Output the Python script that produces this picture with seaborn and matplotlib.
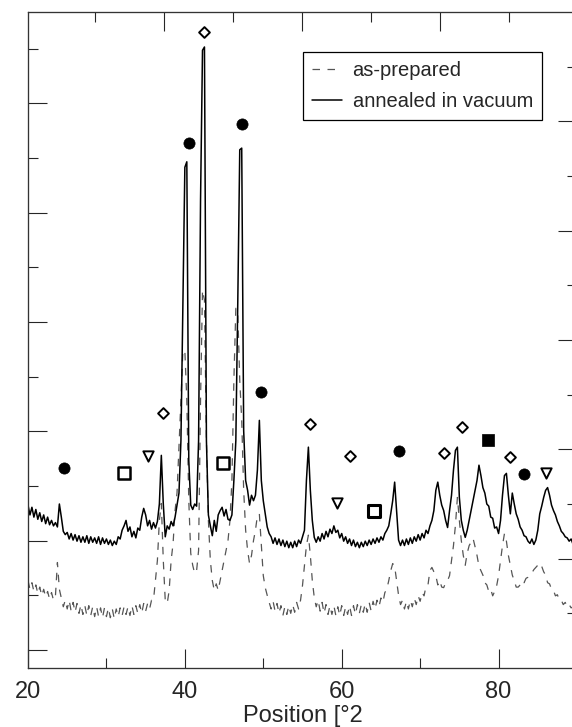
import numpy as np
import matplotlib
matplotlib.use("Agg")
import matplotlib.pyplot as plt
import seaborn as sns

# 2-theta scan grid, 0.25 deg steps
two_theta = np.arange(20.0, 90.01, 0.25)

# annealed in vacuum (solid)
annealed = [
    1490, 1400, 1470, 1380, 1450, 1360, 1420, 1340, 1400, 1320, 1380, 1310, 1350, 1300, 1330, 1290, 1500, 1380, 1250, 1220,
    1240, 1180, 1230, 1170, 1220, 1160, 1210, 1150, 1200, 1150, 1210, 1140, 1200, 1150, 1190, 1140, 1200, 1130, 1190, 1140,
    1180, 1130, 1170, 1120, 1160, 1130, 1200, 1180, 1260, 1300, 1350, 1250, 1290, 1200, 1250, 1190, 1280, 1260, 1380, 1460,
    1400, 1300, 1350, 1270, 1330, 1280, 1340, 1500, 1945, 1500, 1200, 1300, 1270, 1340, 1300, 1380, 1490, 1600, 2080, 3360,
    4580, 4630, 1900, 1490, 1450, 1500, 1480, 2080, 4280, 5650, 5680, 2080, 1400, 1300, 1210, 1350, 1250, 1400, 1440, 1470,
    1390, 1450, 1360, 1350, 1400, 1715, 2080, 3360, 4740, 4755, 2170, 1715, 1625, 1490, 1580, 1530, 1580, 1810, 2265, 1715,
    1530, 1410, 1290, 1230, 1200, 1140, 1190, 1130, 1180, 1120, 1170, 1110, 1160, 1100, 1150, 1100, 1160, 1110, 1170, 1140,
    1200, 1260, 1715, 2020, 1625, 1350, 1195, 1150, 1200, 1160, 1230, 1180, 1250, 1200, 1270, 1230, 1300, 1240, 1260, 1190,
    1230, 1160, 1200, 1140, 1180, 1120, 1170, 1110, 1150, 1100, 1150, 1110, 1160, 1120, 1170, 1130, 1180, 1140, 1190, 1150,
    1200, 1170, 1230, 1260, 1300, 1410, 1530, 1700, 1440, 1170, 1120, 1170, 1120, 1180, 1130, 1190, 1140, 1200, 1160, 1220,
    1170, 1230, 1190, 1260, 1230, 1300, 1350, 1440, 1625, 1700, 1580, 1490, 1440, 1350, 1285, 1440, 1580, 1810, 1990, 2020,
    1560, 1350, 1260, 1195, 1260, 1350, 1440, 1535, 1625, 1715, 1855, 1760, 1650, 1600, 1500, 1480, 1380, 1370, 1280, 1290,
    1230, 1350, 1580, 1760, 1780, 1580, 1410, 1600, 1500, 1410, 1360, 1290, 1260, 1210, 1200, 1160, 1140, 1180, 1130, 1170,
    1260, 1410, 1480, 1560, 1625, 1650, 1580, 1490, 1440, 1400, 1340, 1300, 1250, 1230, 1200, 1190, 1160, 1180, 1130, 1150,
    1120,
]

# as-prepared (dashed)
as_prepared = [
    800, 720, 780, 700, 760, 680, 740, 660, 720, 650, 700, 630, 690, 620, 660, 965, 720, 640, 560, 620,
    540, 620, 520, 600, 510, 590, 500, 580, 490, 570, 480, 570, 480, 560, 470, 560, 470, 550, 460, 550,
    470, 550, 460, 540, 450, 540, 470, 550, 480, 560, 490, 560, 480, 570, 490, 570, 500, 580, 500, 590,
    520, 590, 540, 620, 620, 800, 985, 1350, 1505, 985, 618, 590, 710, 985, 1140, 1440, 1600, 2020, 2450, 2905,
    2900, 2450, 1533, 1050, 940, 865, 892, 1075, 2450, 3455, 3365, 2080, 1350, 985, 800, 710, 770, 710, 800, 890,
    985, 1075, 1165, 1350, 1715, 2630, 3290, 3245, 2630, 2265, 1625, 1260, 1075, 955, 1030, 1165, 1260, 1395, 1410, 1120,
    845, 735, 665, 600, 540, 610, 520, 590, 500, 570, 480, 560, 490, 570, 500, 580, 510, 600, 540, 620,
    755, 940, 1120, 1215, 1030, 800, 645, 560, 620, 520, 600, 500, 580, 490, 570, 490, 570, 480, 560, 480,
    570, 480, 560, 490, 570, 480, 570, 490, 580, 500, 580, 510, 590, 510, 600, 520, 610, 540, 620, 560,
    640, 600, 690, 720, 800, 890, 955, 930, 800, 665, 580, 620, 540, 610, 540, 620, 560, 640, 580, 660,
    610, 690, 660, 750, 760, 892, 920, 880, 845, 760, 800, 740, 735, 780, 800, 845, 985, 1120, 1305, 1560,
    1350, 1165, 1030, 940, 1050, 1120, 1150, 1185, 1110, 1030, 930, 890, 850, 780, 760, 700, 720, 660, 700, 750,
    845, 985, 1120, 1230, 1160, 1030, 940, 850, 800, 740, 740, 760, 800, 780, 820, 830, 850, 870, 900, 920,
    940, 960, 930, 880, 850, 780, 770, 720, 710, 660, 670, 620, 620, 580, 600, 560, 580, 550, 560, 540,
    560,
]

# phase markers
hex_x = [24.6, 40.5, 47.3, 49.7, 67.3, 83.3]
hex_y = [1826, 4801, 4975, 2522, 1982, 1771]
diamond_x = [37.2, 42.5, 55.9, 61.1, 73.1, 75.4, 81.4]
diamond_y = [2329, 5817, 2229, 1936, 1963, 2201, 1927]
tri_x = [35.3, 59.4, 86.1]
tri_y = [1936, 1506, 1780]
square_x = [32.2, 44.8]
square_y = [1780, 1872]
half_square_x = [64.1]
half_square_y = [1432]
filled_square_x = [78.6]
filled_square_y = [2082]

sns.set_style("ticks")
plt.rcParams['font.family'] = ['Liberation Sans', 'DejaVu Sans']

fig = plt.figure(figsize=(5.72, 7.27), dpi=100)
ax = fig.add_axes([28 / 572, 59 / 727, 549 / 572, 656 / 727])

sns.lineplot(x=two_theta, y=as_prepared, ax=ax, color='#555555', lw=0.9,
             linestyle=(0, (6, 6)), label='as-prepared')
sns.lineplot(x=two_theta, y=annealed, ax=ax, color='black', lw=1.1,
             label='annealed in vacuum')

mk = dict(ax=ax, edgecolor='black', zorder=5, legend=False)
sns.scatterplot(x=hex_x, y=hex_y, marker='o', s=65, color='black', linewidth=0.5, **mk)
sns.scatterplot(x=diamond_x, y=diamond_y, marker='D', s=30, color='white', linewidth=1.4, **mk)
sns.scatterplot(x=tri_x, y=tri_y, marker='v', s=55, color='white', linewidth=1.4, **mk)
sns.scatterplot(x=square_x, y=square_y, marker='s', s=75, color='white', linewidth=1.8, **mk)
sns.scatterplot(x=half_square_x, y=half_square_y, marker='s', s=75, color='white', linewidth=2.2, **mk)
sns.scatterplot(x=filled_square_x, y=filled_square_y, marker='s', s=65, color='black', linewidth=0.5, **mk)

ax.set_xlim(20, 90)
ax.set_ylim(0, 6000)
ax.set_xticks([20, 40, 60, 80])
ax.set_xticks([30, 50, 70], minor=True)
ax.set_yticks([165, 1165, 2165, 3165, 4165, 5165])
ax.set_yticks([665, 1665, 2665, 3665, 4665, 5665], minor=True)
ax.set_yticklabels([])
ax.tick_params(axis='both', which='major', direction='in', length=14, width=0.8,
               labelsize=17, pad=9, right=False, top=False)
ax.tick_params(axis='both', which='minor', direction='in', length=7, width=0.8,
               right=False, top=False)
ax.set_xlabel('Position [°2', fontsize=17, labelpad=2)
ax.set_ylabel('')

# right side ticks
axr = ax.twinx()
axr.set_ylim(0, 6000)
axr.set_yticks([1000, 2000, 3000, 4000, 5000])
axr.set_yticks([500, 1500, 2500, 3500, 4500, 5500], minor=True)
axr.set_yticklabels([])
axr.tick_params(which='major', direction='in', length=14, width=0.8)
axr.tick_params(which='minor', direction='in', length=7, width=0.8)

# top ticks
axt = ax.twiny()
axt.set_xlim(20, 90)
axt.set_xticks([37.3, 54.9, 72.5])
axt.set_xticks([28.5, 46.1, 63.7, 81.3], minor=True)
axt.set_xticklabels([])
axt.tick_params(which='major', direction='in', length=14, width=0.8)
axt.tick_params(which='minor', direction='in', length=7, width=0.8)

for a in (ax, axr, axt):
    for sp in a.spines.values():
        sp.set_linewidth(0.8)
        sp.set_color('#333333')

leg = ax.legend(loc='upper right', bbox_to_anchor=(542 / 572, 1 - 52 / 727),
                bbox_transform=fig.transFigure, fontsize=14.5, frameon=True,
                fancybox=False, framealpha=1, edgecolor='black', borderpad=0.45,
                labelspacing=0.6, handlelength=1.5, handletextpad=0.5,
                borderaxespad=0)
leg.get_frame().set_linewidth(0.9)

fig.savefig('out.png', dpi=100)
